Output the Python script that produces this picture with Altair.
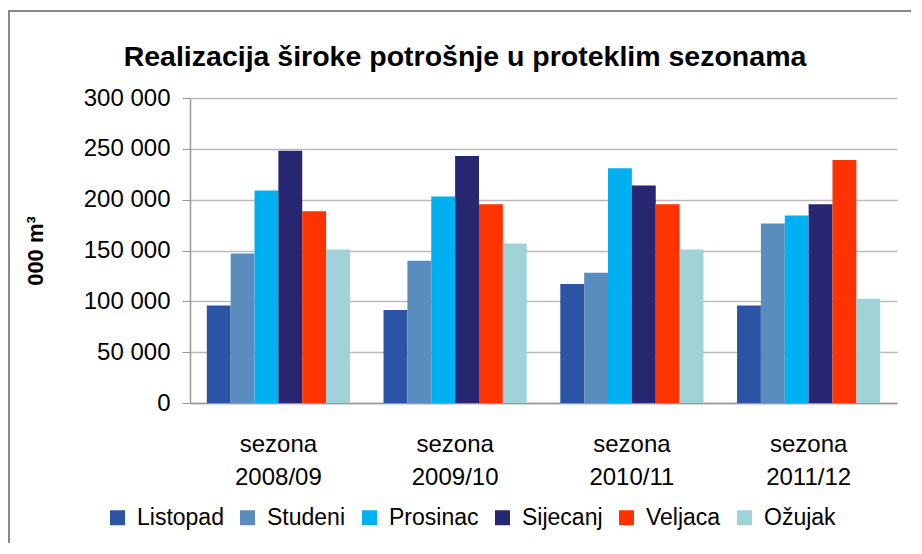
import altair as alt
import pandas as pd

seasons = ["sezona 2008/09", "sezona 2009/10", "sezona 2010/11", "sezona 2011/12"]
months = ["Listopad", "Studeni", "Prosinac", "Sijecanj", "Veljaca", "Ožujak"]
listopad = [96000, 91500, 117000, 96000]
studeni = [147000, 140000, 128000, 176500]
prosinac = [209000, 203000, 231000, 184500]
sijecanj = [248000, 243000, 214000, 195500]
veljaca = [188500, 195500, 195500, 239000]
ozujak = [151000, 157000, 151000, 102500]
colors = ["#2B55A4", "#5A8DBE", "#00B0F0", "#262671", "#FF3300", "#9FD3D8"]
title_text = "Realizacija široke potrošnje u proteklim sezonama"

series = [listopad, studeni, prosinac, sijecanj, veljaca, ozujak]
rows = []
for m, vals in zip(months, series):
    for s, v in zip(seasons, vals):
        rows.append({"sezona": s, "mjesec": m, "vrijednost": v})
df = pd.DataFrame(rows)

FONT = "Liberation Sans"

bars = alt.Chart(df).mark_bar().encode(
    x=alt.X("sezona:N", sort=seasons,
            scale=alt.Scale(paddingInner=0.19, paddingOuter=0.095),
            axis=alt.Axis(title=None, labelAngle=0, ticks=False,
                          labelExpr="split(datum.label, ' ')",
                          labelFontSize=24, labelLineHeight=33,
                          labelPadding=29, labelFont=FONT, labelColor="#000",
                          domainColor="#999", domainWidth=1.5)),
    xOffset=alt.XOffset("mjesec:N", sort=months,
                        scale=alt.Scale(paddingInner=0, paddingOuter=0)),
    y=alt.Y("vrijednost:Q",
            scale=alt.Scale(domain=[0, 300000], nice=False),
            axis=alt.Axis(title="000 m³", values=list(range(0, 300001, 50000)),
                          labelExpr="replace(format(datum.value, ','), ',', ' ')",
                          labelFontSize=24, labelFont=FONT, labelColor="#000",
                          labelPadding=12, tickSize=8, tickColor="#999",
                          domainColor="#999", domainWidth=1.5,
                          grid=True, gridColor="#BBBBBB", gridWidth=1.5,
                          titleFont=FONT, titleFontSize=22, titleFontWeight="bold",
                          titleColor="#000", titlePadding=36)),
    color=alt.Color("mjesec:N", sort=months,
                    scale=alt.Scale(domain=months, range=colors),
                    legend=alt.Legend(title=None, orient="none", direction="horizontal",
                                      legendX=-84, legendY=408,
                                      symbolType="square", symbolSize=225,
                                      symbolStrokeWidth=0,
                                      labelFont=FONT, labelFontSize=23,
                                      labelColor="#000", labelOffset=8,
                                      columnPadding=12)),
)

border = alt.Chart(pd.DataFrame({"a": [0]})).mark_rect(
    fill=None, stroke="#888888", strokeWidth=2
).encode(
    x=alt.value(-181), x2=alt.value(760), y=alt.value(-87), y2=alt.value(480)
)

title = alt.Chart(pd.DataFrame({"t": [title_text]})).mark_text(
    font=FONT, fontSize=28.5, fontWeight="bold", color="#000",
    align="center", baseline="alphabetic"
).encode(
    text="t:N", x=alt.value(275), y=alt.value(-32)
)

chart = alt.layer(border, bars, title).properties(
    width=707, height=305,
    autosize=alt.AutoSizeParams(type="none"),
    padding={"left": 182, "top": 90, "right": 14, "bottom": 140},
).configure_view(stroke=None)

chart.save("out.html", embed_options={"renderer": "svg", "actions": False})
